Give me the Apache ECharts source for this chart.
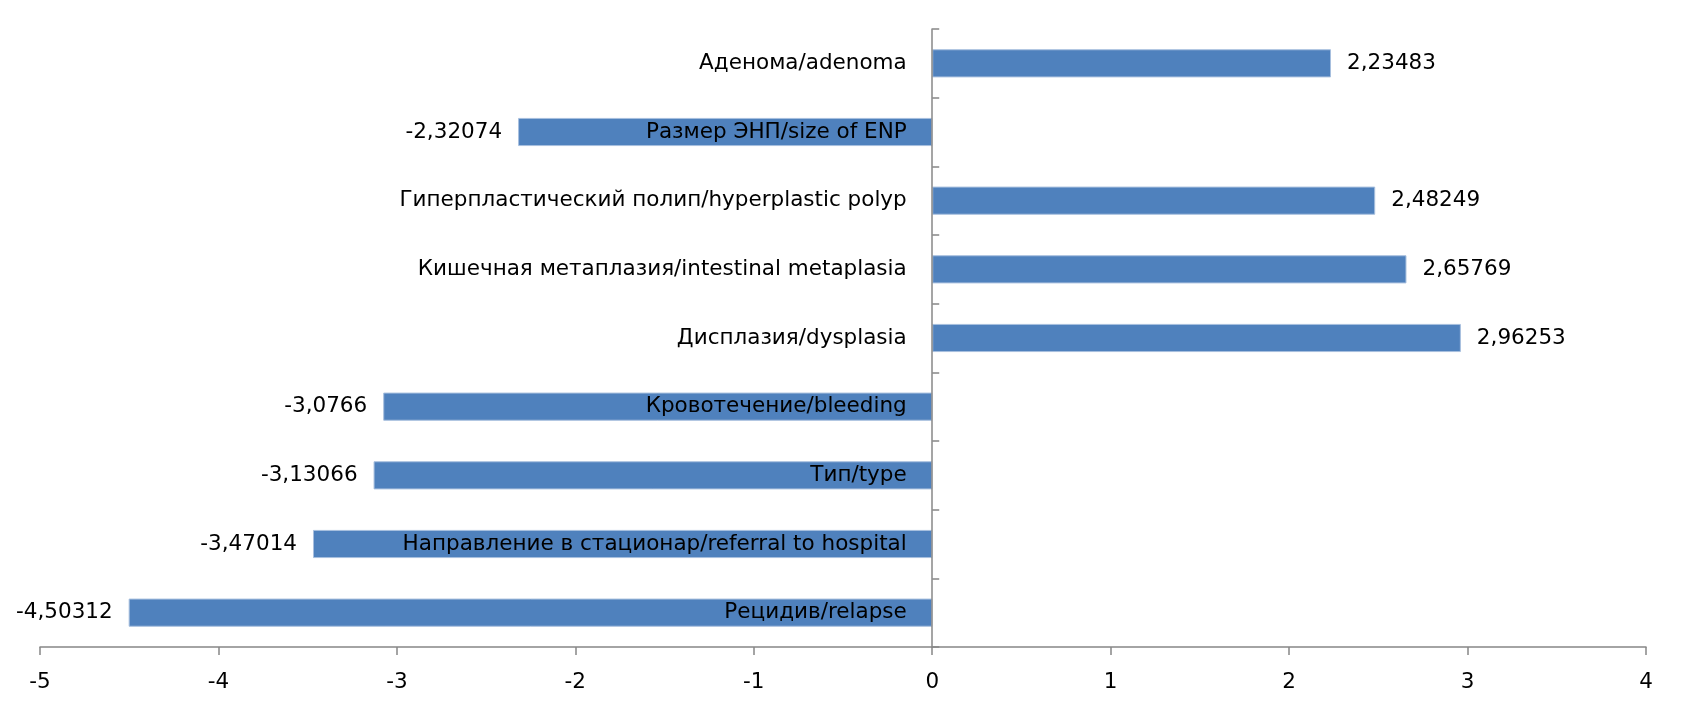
<!DOCTYPE html>
<html><head><meta charset="utf-8">
<script src="https://cdn.jsdelivr.net/npm/echarts@6/dist/echarts.min.js"></script>
<style>html,body{margin:0;padding:0;background:#fff}#c{width:1682px;height:715px}</style>
</head><body><div id="c"></div>
<script>
const categories = [
  'Аденома/adenoma',
  'Размер ЭНП/size of ENP',
  'Гиперпластический полип/hyperplastic polyp',
  'Кишечная метаплазия/intestinal metaplasia',
  'Дисплазия/dysplasia',
  'Кровотечение/bleeding',
  'Тип/type',
  'Направление в стационар/referral to hospital',
  'Рецидив/relapse'
];
const values = [2.23483, -2.32074, 2.48249, 2.65769, 2.96253, -3.0766, -3.13066, -3.47014, -4.50312];
const xTicks = [-5, -4, -3, -2, -1, 0, 1, 2, 3, 4];

const FONT = '"DejaVu Sans", sans-serif';
const FS = 21.5;
const chart = echarts.init(document.getElementById('c'));
chart.setOption({
  animation: false,
  backgroundColor: '#fff',
  grid: { left: 40, right: 36, top: 29, bottom: 68, containLabel: false, outerBoundsMode: 'none' },
  xAxis: {
    type: 'value', min: xTicks[0], max: xTicks[xTicks.length - 1], interval: 1,
    axisLine: { show: true, onZero: false, lineStyle: { color: '#878787', width: 1.5 } },
    axisTick: { show: true, length: 8, lineStyle: { color: '#878787', width: 1.5 } },
    splitLine: { show: false },
    axisLabel: { color: '#000', fontSize: FS, fontFamily: FONT, margin: 24 }
  },
  yAxis: {
    type: 'category', data: categories, inverse: true, z: 10,
    axisLine: { show: true, onZero: true, lineStyle: { color: '#878787', width: 1.5 } },
    axisTick: { show: true, inside: true, length: 7, lineStyle: { color: '#878787', width: 1.5 } },
    axisLabel: { show: false }
  },
  series: [{
    type: 'bar',
    barCategoryGap: '59%',
    z: 2,
    itemStyle: { color: '#4F81BD', borderColor: '#A7BFDE', borderWidth: 1 },
    data: values.map(v => ({
      value: v,
      label: { position: v < 0 ? 'left' : 'right' }
    })),
    label: {
      show: true, distance: 16, color: '#000', fontSize: FS, fontFamily: FONT,
      formatter: p => String(p.value).replace('.', ',')
    }
  }, {
    type: 'scatter',
    z: 20,
    symbolSize: 1,
    itemStyle: { color: 'rgba(0,0,0,0)', opacity: 1 },
    silent: true,
    data: categories.map(c => [0, c]),
    label: {
      show: true, position: 'left', distance: 25, color: '#000', fontSize: FS, fontFamily: FONT,
      formatter: p => p.value[1]
    }
  }]
});
</script></body></html>
